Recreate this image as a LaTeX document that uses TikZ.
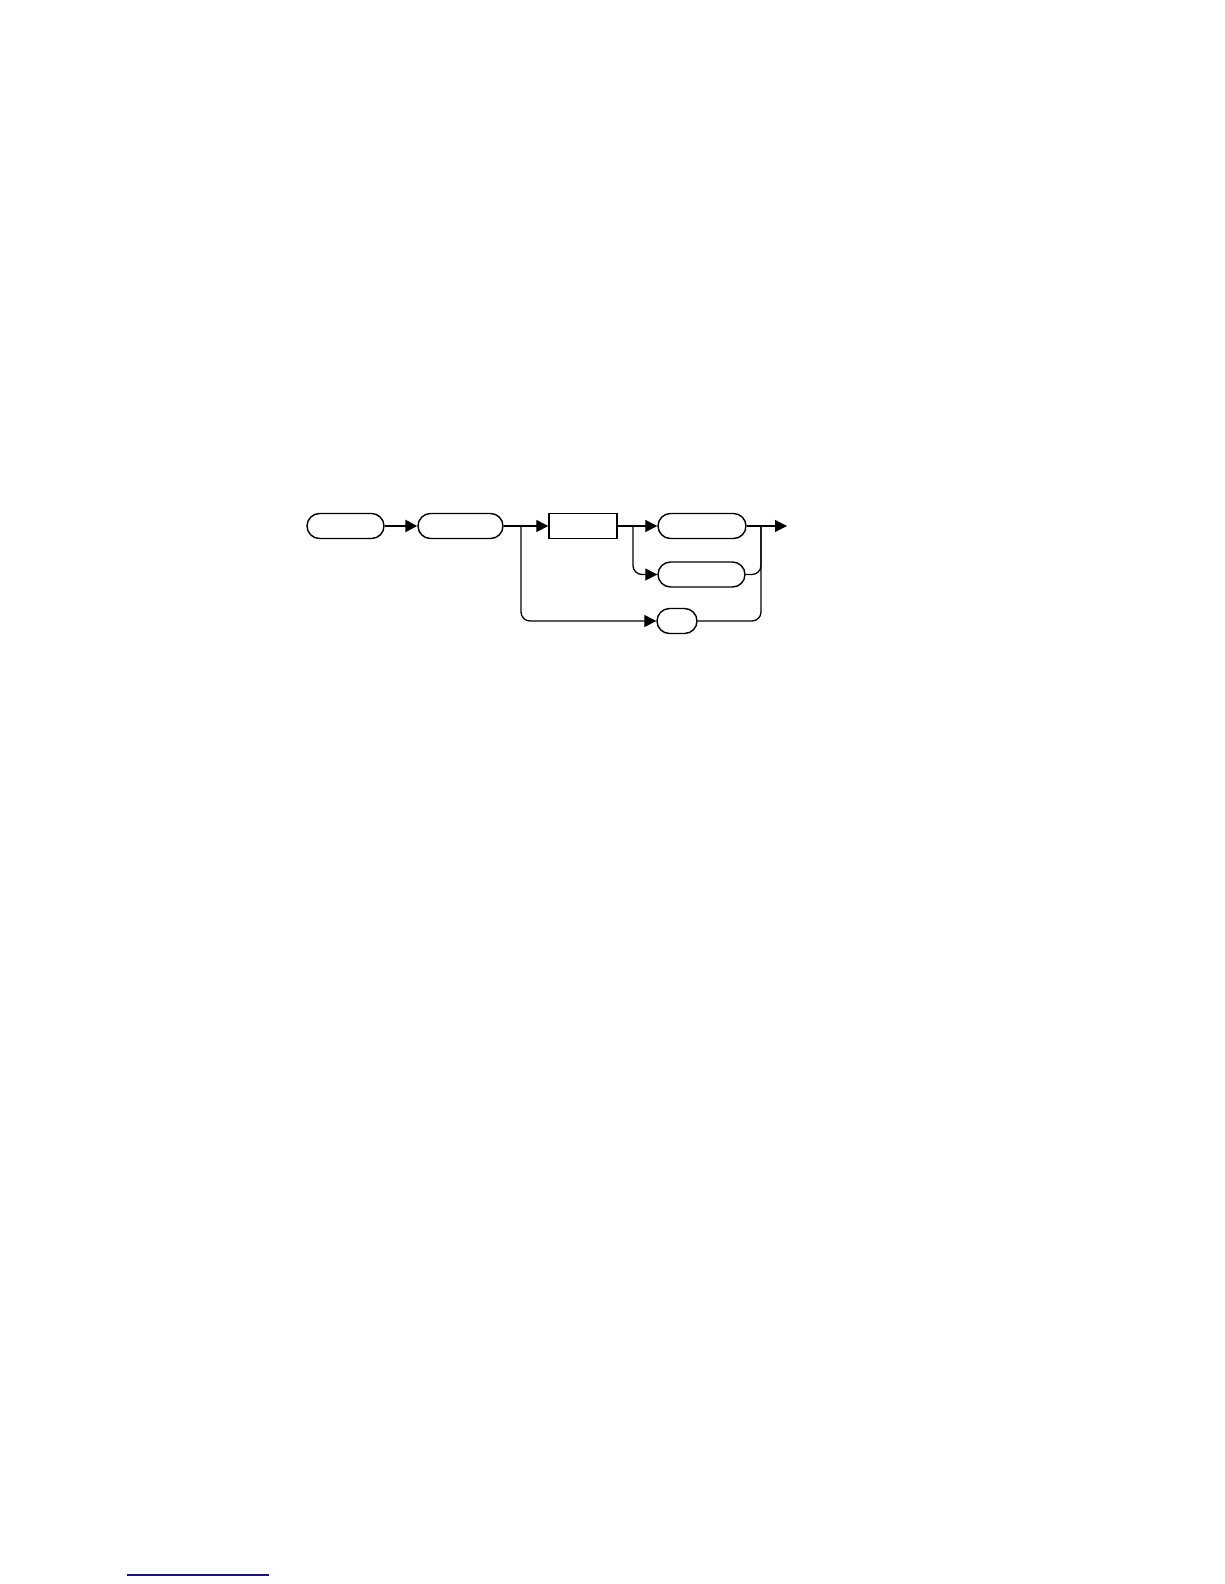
\documentclass[tikz,border=0pt]{standalone}
\usetikzlibrary{arrows.meta}
\definecolor{navy}{RGB}{20,20,140}
\begin{document}
\begin{tikzpicture}[x=1pt,y=-1pt,
  pill/.style={draw, line width=1.4pt, rounded corners=12.5pt, minimum height=25pt, inner sep=0pt},
  box/.style={draw, line width=1.4pt, minimum height=25pt, inner sep=0pt},
  conn/.style={line width=1.3pt},
  arr/.style={conn, -{Triangle[length=12pt,width=12pt]}},
  thickarr/.style={line width=2.6pt, -{Triangle[length=12pt,width=12pt]}}]
\useasboundingbox (0,0) rectangle (1224,1584);
\node[pill, minimum width=77pt] (n1) at (345.5,526) {};
\node[pill, minimum width=85pt] (n2) at (460.5,526) {};
\node[box, minimum width=68pt] (r) at (583,526) {};
\node[pill, minimum width=88pt] (n3) at (702,526) {};
\node[pill, minimum width=87pt] (n4) at (701.5,574.5) {};
\node[pill, minimum width=40pt] (n5) at (677,621) {};
\coordinate (b1) at (521,526);
\coordinate (b2) at (633,526);
\coordinate (m) at (761,526);
\coordinate (out) at (787,526);
\draw[thickarr] (n1.east) -- (n2.west);
\draw[arr] (n2.east) -- (r.west);
\draw[arr] (r.east) -- (n3.west);
\draw[arr] (n3.east) -- (out);
\draw[arr, rounded corners=9pt] (b1) |- (n5.west);
\draw[arr, rounded corners=9pt] (b2) |- (n4.west);
\draw[conn, rounded corners=9pt] (n4.east) -| (m);
\draw[conn, rounded corners=9pt] (n5.east) -| (m);
\draw[navy, line width=1.5pt] (127,1575) -- (269,1575);
\end{tikzpicture}
\end{document}
